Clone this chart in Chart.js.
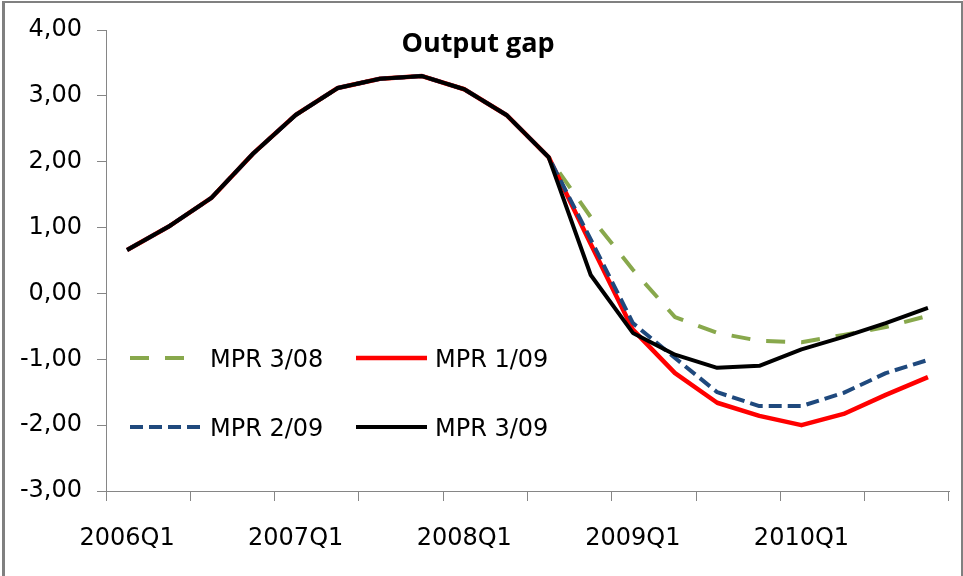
<!DOCTYPE html>
<html>
<head>
<meta charset="utf-8">
<script src="https://cdn.jsdelivr.net/npm/chart.js@4/dist/chart.umd.min.js"></script>
<style>
  html, body { margin: 0; padding: 0; background: #fff; }
  #wrap { width: 963px; height: 576px; }
</style>
</head>
<body>
<div id="wrap"><canvas id="gapChart" width="963" height="576"></canvas></div>
<script>
// 四半期ラベル
const quarters = [
    '2006Q1', '2006Q2', '2006Q3', '2006Q4',
    '2007Q1', '2007Q2', '2007Q3', '2007Q4',
    '2008Q1', '2008Q2', '2008Q3', '2008Q4',
    '2009Q1', '2009Q2', '2009Q3', '2009Q4',
    '2010Q1', '2010Q2', '2010Q3', '2010Q4'
];

// 各MPRの出力ギャップ (%)
const mpr308 = [0.66, 1.02, 1.45, 2.13, 2.71, 3.12, 3.26, 3.30, 3.10, 2.71, 2.07, 1.16, 0.36, -0.36, -0.60, -0.72, -0.74, -0.63, -0.51, -0.34];
const mpr109 = [0.66, 1.02, 1.45, 2.13, 2.71, 3.12, 3.26, 3.30, 3.10, 2.71, 2.07, 0.75, -0.55, -1.21, -1.66, -1.86, -2.00, -1.83, -1.54, -1.27];
const mpr209 = [0.66, 1.02, 1.45, 2.13, 2.71, 3.12, 3.26, 3.30, 3.10, 2.71, 2.07, 0.82, -0.45, -0.98, -1.50, -1.71, -1.71, -1.51, -1.21, -1.01];
const mpr309 = [0.66, 1.02, 1.45, 2.13, 2.71, 3.12, 3.26, 3.30, 3.10, 2.71, 2.07, 0.28, -0.60, -0.93, -1.13, -1.10, -0.85, -0.66, -0.45, -0.22];

const seriesLabels = ['MPR 3/08', 'MPR 1/09', 'MPR 2/09', 'MPR 3/09'];

const axisGray = '#868686';
const tickFont = { family: 'DejaVu Sans', size: 24 };

// 外枠 (上・左・右のみ)
const framePlugin = {
    id: 'frame',
    afterDraw(chart) {
        const ctx = chart.ctx;
        ctx.save();
        ctx.fillStyle = '#808080';
        ctx.fillRect(2, 1, 3, 575);
        ctx.fillRect(2, 1, 961, 2);
        ctx.fillRect(961, 1, 2, 575);
        ctx.restore();
    }
};

// タイトル (グラフ内)
const titlePlugin = {
    id: 'innerTitle',
    afterDraw(chart, args, opts) {
        const ctx = chart.ctx;
        ctx.save();
        ctx.font = 'bold 27px "Open Sans"';
        ctx.fillStyle = '#000';
        ctx.textAlign = 'center';
        ctx.textBaseline = 'alphabetic';
        ctx.fillText(opts.text, opts.x, opts.y);
        ctx.restore();
    }
};

// 凡例 (2x2)
const legendPlugin = {
    id: 'gridLegend',
    afterDraw(chart, args, opts) {
        const ctx = chart.ctx;
        ctx.save();
        ctx.font = '24px "DejaVu Sans"';
        ctx.textBaseline = 'alphabetic';
        ctx.textAlign = 'left';
        opts.items.forEach(item => {
            const ds = chart.data.datasets[item.dataset];
            ctx.strokeStyle = ds.borderColor;
            ctx.lineWidth = ds.borderWidth;
            ctx.setLineDash(ds.borderDash || []);
            ctx.beginPath();
            ctx.moveTo(item.x1, item.y);
            ctx.lineTo(item.x2, item.y);
            ctx.stroke();
            ctx.setLineDash([]);
            ctx.fillStyle = '#000';
            ctx.fillText(ds.label, item.tx, item.y + 9);
        });
        ctx.restore();
    }
};

const chartConfig = {
    type: 'line',
    data: {
        labels: quarters,
        datasets: [
            {
                label: seriesLabels[0],
                data: mpr308,
                borderColor: '#88A84C',
                borderWidth: 4,
                borderDash: [19, 16],
                order: 3
            },
            {
                label: seriesLabels[1],
                data: mpr109,
                borderColor: '#FF0000',
                borderWidth: 4.5,
                order: 2
            },
            {
                label: seriesLabels[2],
                data: mpr209,
                borderColor: '#1F497D',
                borderWidth: 4,
                borderDash: [13, 6],
                order: 1
            },
            {
                label: seriesLabels[3],
                data: mpr309,
                borderColor: '#000000',
                borderWidth: 4,
                order: 0
            }
        ]
    },
    options: {
        responsive: false,
        animation: false,
        layout: { padding: { left: 6, right: 14, top: 30, bottom: 0 } },
        elements: {
            point: { radius: 0 },
            line: { tension: 0, borderCapStyle: 'butt', borderJoinStyle: 'round' }
        },
        plugins: {
            legend: { display: false },
            tooltip: { enabled: false },
            innerTitle: { text: 'Output gap', x: 478, y: 52 },
            gridLegend: {
                items: [
                    { dataset: 0, x1: 130, x2: 188, tx: 210, y: 358 },
                    { dataset: 1, x1: 356, x2: 427, tx: 435, y: 358 },
                    { dataset: 2, x1: 130, x2: 204, tx: 210, y: 427 },
                    { dataset: 3, x1: 356, x2: 427, tx: 435, y: 427 }
                ]
            }
        },
        scales: {
            x: {
                offset: true,
                border: { color: axisGray, width: 1 },
                grid: {
                    offset: true,
                    drawOnChartArea: false,
                    tickLength: 10,
                    color: ctx => (ctx.index === undefined || ctx.index % 2 === 0) ? axisGray : 'rgba(0,0,0,0)'
                },
                ticks: {
                    autoSkip: false,
                    maxRotation: 0,
                    padding: 23,
                    color: '#000',
                    font: tickFont,
                    callback: function (value, index) {
                        return index % 4 === 0 ? this.getLabelForValue(value) : '';
                    }
                },
                afterFit: scale => { scale.height = 85; }
            },
            y: {
                min: -3,
                max: 4,
                border: { color: axisGray, width: 1 },
                grid: { drawOnChartArea: false, tickLength: 9, color: axisGray },
                ticks: {
                    stepSize: 1,
                    padding: 15,
                    color: '#000',
                    font: tickFont,
                    callback: value => value.toFixed(2).replace('.', ',')
                },
                afterFit: scale => { scale.width = 100; }
            }
        }
    },
    plugins: [titlePlugin, legendPlugin, framePlugin]
};

new Chart(document.getElementById('gapChart'), chartConfig);
</script>
</body>
</html>
